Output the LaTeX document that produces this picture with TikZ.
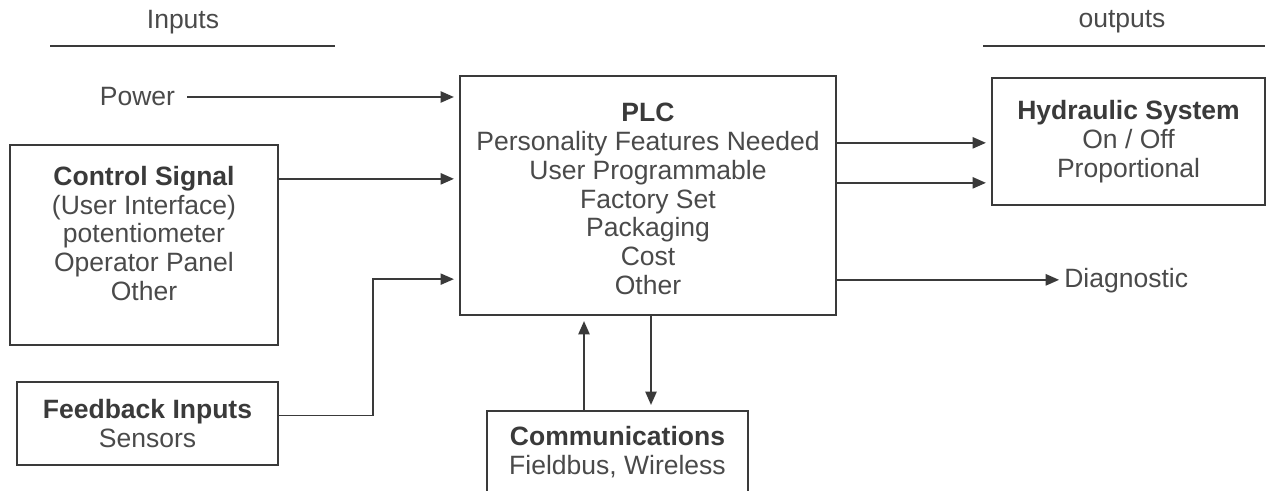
\documentclass[tikz,border=0pt]{standalone}
\usepackage{fontspec}
\setmainfont{Liberation Sans}
\usetikzlibrary{arrows.meta,calc}
\definecolor{inkgray}{HTML}{3A3A3A}
\definecolor{txtgray}{HTML}{4A4A4A}
\tikzset{
  blk/.style={draw=inkgray, line width=1.6pt, fill=white, align=center, inner sep=0pt},
  lbl/.style={text=txtgray, align=center, inner sep=0pt},
  arr/.style={draw=inkgray, line width=1.3pt, -{Triangle[length=9.5pt,width=8pt]}, shorten >=3.5pt},
  wire/.style={draw=inkgray, line width=1pt, -{Triangle[length=9.5pt,width=8pt]}, shorten >=3.5pt},
  rule/.style={draw=inkgray, line width=1.2pt}
}
\newcommand{\hd}[1]{{\bfseries\color{inkgray}#1}}
\begin{document}
\begin{tikzpicture}[x=0.025cm, y=-0.025cm,
    font=\fontsize{18.85pt}{20.5pt}\selectfont, text=txtgray]
  \clip (0,0) rectangle (1268,491);
  \fill[white] (0,0) rectangle (1268,491);
  % headers
  \node[lbl] (inp) at (183,22) {Inputs};
  \node[lbl] (outp) at (1122,22) {outputs};
  \draw[rule] (50,46) -- (335,46);
  \draw[rule] (983,46) -- (1265,46);
  % boxes
  \node[blk, minimum width=9.4cm, minimum height=5.975cm] (plc) at (648,195.5) {};
  \node[lbl] (plctext) at (648,199) {\hd{PLC}\\Personality Features Needed\\User Programmable\\Factory Set\\Packaging\\Cost\\Other};
  \node[blk, minimum width=6.7cm, minimum height=5cm] (ctrl) at (144,245) {};
  \node[lbl] (ctrltext) at (144,233.5) {\hd{Control Signal}\\(User Interface)\\potentiometer\\Operator Panel\\Other};
  \node[blk, minimum width=6.525cm, minimum height=2.075cm] (fb) at (147.5,423.5) {\hd{Feedback Inputs}\\Sensors};
  \node[blk, minimum width=6.825cm, minimum height=3.175cm] (hyd) at (1128.5,141.5) {\hd{Hydraulic System}\\On / Off\\Proportional};
  \node[blk, minimum width=6.525cm, minimum height=2.05cm] (comm) at (617.5,452) {\hd{Communications}\\Fieldbus, Wireless};
  \node[lbl] (power) at (137.5,97) {Power};
  \node[lbl, anchor=west] (diag) at (1064,281) {Diagnostic};
  % connectors
  \coordinate (cin) at ($(ctrl.north east)+(0,35)$);
  \coordinate (fin) at ($(plc.south west)+(0,-37)$);
  \coordinate (hout1) at ($(plc.north east)+(0,68)$);
  \coordinate (hout2) at ($(plc.north east)+(0,108)$);
  \coordinate (dout) at ($(plc.north east)+(0,205)$);
  \coordinate (cup) at ($(comm.north)+(-33.5,0)$);
  \coordinate (cdown) at ($(plc.south)+(3,0)$);
  \draw[arr] ($(power.east)+(12,0)$) -- (power.east -| plc.west);
  \draw[arr] (cin) -- (cin -| plc.west);
  \draw[wire] ($(fb.east)+(0,-8)$) -- ++(94,0) |- (fin);
  \draw[arr] (hout1) -- (hout1 -| hyd.west);
  \draw[arr] (hout2) -- (hout2 -| hyd.west);
  \draw[arr] (dout) -- (dout -| diag.west);
  \draw[arr] (cup) -- (cup |- plc.south);
  \draw[arr] (cdown) -- (cdown |- comm.north);
\end{tikzpicture}
\end{document}
